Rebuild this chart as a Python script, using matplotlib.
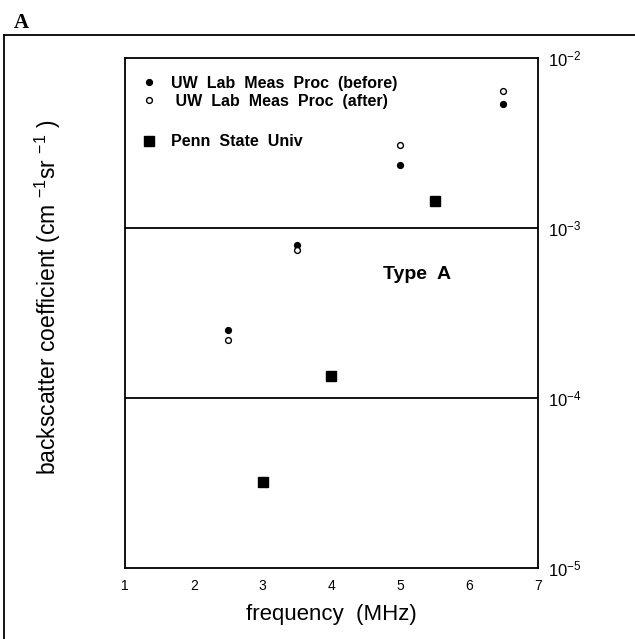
import matplotlib
matplotlib.use("Agg")
from matplotlib import pyplot as plt
from matplotlib.lines import Line2D

plt.rcParams['font.family'] = ['Liberation Sans', 'DejaVu Sans']
plt.rcParams['mathtext.default'] = 'regular'

# frequencies (MHz) and backscatter coefficients (cm^-1 sr^-1)
uw_freq = [2.5, 3.5, 5.0, 6.5]
uw_before = [2.5e-4, 8.0e-4, 2.35e-3, 5.4e-3]
uw_after = [2.2e-4, 7.4e-4, 3.1e-3, 6.4e-3]
psu_freq = [3.0, 4.0, 5.5]
psu_values = [3.2e-5, 1.35e-4, 1.44e-3]

x_ticks = [1, 2, 3, 4, 5, 6, 7]
y_ticks = [1e-5, 1e-4, 1e-3, 1e-2]
y_tick_labels = ['$10^{-5}$', '$10^{-4}$', '$10^{-3}$', '$10^{-2}$']

fig = plt.figure(figsize=(6.35, 6.39), dpi=100)
ax = fig.add_axes([0.197, 0.111, 0.650, 0.798])

ax.plot(uw_freq, uw_before, 'o', color='black', markersize=4.2, label='UW  Lab  Meas  Proc  (before)')
ax.plot(uw_freq, uw_after, 'o', markerfacecolor='white', markeredgecolor='black', markeredgewidth=1.0,
        markersize=4.2, label=' UW  Lab  Meas  Proc  (after)')
ax.plot(psu_freq, psu_values, 's', color='black', markersize=6.5, label='Penn  State  Univ')

ax.set_yscale('log')
ax.set_xlim(1, 7)
ax.set_ylim(1e-5, 1e-2)
ax.set_xticks(x_ticks)
ax.set_xticklabels([str(t) for t in x_ticks], fontsize=10)
ax.yaxis.tick_right()
ax.set_yticks(y_ticks)
ax.set_yticklabels(y_tick_labels, fontsize=12)
ax.minorticks_off()
ax.tick_params(axis='both', length=0)
ax.tick_params(axis='x', pad=8)
ax.tick_params(axis='y', pad=7)

# horizontal lines at inner decades
for yv in y_ticks[1:3]:
    ax.axhline(yv, color='black', linewidth=1.3)

for sp in ax.spines.values():
    sp.set_linewidth(1.3)

ax.set_xlabel('frequency  (MHz)', fontsize=16, labelpad=8)
fig.text(0.075, 0.535, 'backscatter coefficient (cm $^{-1}$sr $^{-1}$ )', rotation=90,
         fontsize=16.5, ha='center', va='center')

ax.text(5.24, 5.3e-4, 'Type  A', fontsize=14, fontweight='bold', ha='center', va='center')

spacer = Line2D([], [], linestyle='none')
handles, labels = ax.get_legend_handles_labels()
handles = handles[:2] + [spacer] + handles[2:]
labels = labels[:2] + [' '] + labels[2:]
leg = ax.legend(handles, labels, loc='upper left', frameon=False, prop={'weight': 'bold', 'size': 11.5},
                handletextpad=0.9, handlelength=1.0, labelspacing=0.2,
                bbox_to_anchor=(0.0, 0.997), borderaxespad=0.6)
leg.get_texts()[2].set_fontsize(15)

# outer panel frame and label
fig.add_artist(Line2D([0.006, 0.006], [0.0, 0.945], color='black', linewidth=1.3, transform=fig.transFigure))
fig.add_artist(Line2D([0.006, 1.0], [0.945, 0.945], color='black', linewidth=1.3, transform=fig.transFigure))
fig.text(0.022, 0.98, 'A', fontsize=15, fontweight='bold', family=['Liberation Serif', 'DejaVu Serif'],
         ha='left', va='top')

plt.savefig('out.png', dpi=100)
